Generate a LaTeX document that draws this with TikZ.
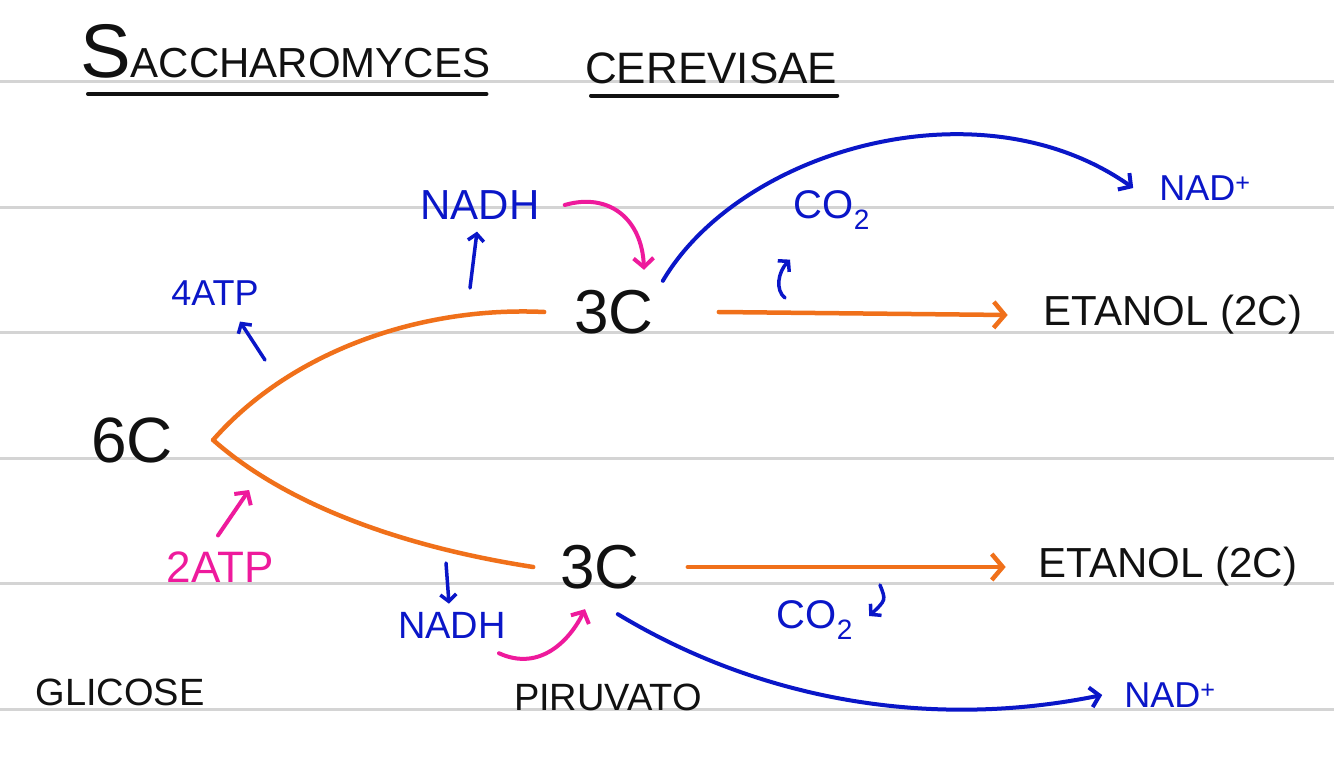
\documentclass[tikz,border=0pt]{standalone}
\usepackage{fontspec}
\setmainfont{Liberation Sans}
\usetikzlibrary{arrows.meta, positioning, calc}
\definecolor{noteOrange}{HTML}{F0701A}
\definecolor{noteBlue}{HTML}{0A16C8}
\definecolor{notePink}{HTML}{EE1A9C}
\definecolor{noteRule}{HTML}{D4D4D4}
\definecolor{noteInk}{HTML}{111111}

\begin{document}
\begin{tikzpicture}[
  x=1pt, y=-1pt,
  carbon/.style={inner sep=0pt, text=noteInk, font=\fontsize{62}{62}\selectfont},
  prod/.style={inner sep=0pt, text=noteInk, font=\fontsize{42}{42}\selectfont},
  mol/.style={inner sep=0pt, text=noteBlue, font=\fontsize{40}{40}\selectfont},
  headline/.style={inner sep=0pt, text=noteInk, anchor=base west},
  uline/.style={line width=4pt, color=noteInk, line cap=round},
  rule/.style={line width=3pt, color=noteRule},
  flow/.style={line width=4.5pt, color=noteOrange, line cap=round},
  flowarr/.style={flow, -{Straight Barb[length=11pt, width=26pt]}},
  redox/.style={line width=4pt, color=noteBlue, line cap=round, -{Straight Barb[length=9pt, width=20pt]}},
  tick/.style={line width=3.5pt, color=noteBlue, line cap=round, -{Straight Barb[length=7pt, width=16pt]}},
  gift/.style={line width=4pt, color=notePink, line cap=round, -{Straight Barb[length=9pt, width=20pt]}}
]
\useasboundingbox (0,0) rectangle (1334,773);
\fill[white] (0,0) rectangle (1334,773);

% ruled paper
\foreach \y in {82,207,332,458,583,709}
  \draw[rule] (0,\y) -- (1334,\y);

% title
\node[headline] (sac) at (80,78) {\fontsize{76}{76}\selectfont S\fontsize{42}{42}\selectfont ACCHAROMYCES};
\node[headline, font=\fontsize{44}{44}\selectfont] (cer) at (585,84) {CEREVISAE};
\draw[uline] ([shift={(8pt,-15pt)}]sac.south west) -- ([shift={(-4pt,-15pt)}]sac.south east);
\draw[uline] ([shift={(6pt,-11pt)}]cer.south west) -- ([shift={(0pt,-11pt)}]cer.south east);

% carbon skeletons
\node[carbon, font=\fontsize{64}{64}\selectfont] (six) at (132,440) {6C};
\node[carbon] (upc) at (614,312) {3C};
\node[carbon] (lowc) at (600,567) {3C};
\coordinate (fork) at ([xshift=40pt]six.east);

% products
\node[prod] (etup) at (1173,315) {ETANOL (2C)};
\node[prod] (etlow) at (1168,567) {ETANOL (2C)};
\node[mol, font=\fontsize{36}{36}\selectfont] (nadup) at (1205,188) {NAD\textsuperscript{+}};
\node[mol, font=\fontsize{36}{36}\selectfont] (nadlow) at (1170,695) {NAD\textsuperscript{+}};
\node[mol] (coup) at (832,210) {CO\textsubscript{2}};
\node[mol] (colow) at (815,620) {CO\textsubscript{2}};

% cofactors
\node[mol, font=\fontsize{42}{42}\selectfont] (nadhup) at (480,205) {NADH};
\node[mol, font=\fontsize{38}{38}\selectfont] (nadhlow) at (452,625) {NADH};
\node[mol, font=\fontsize{36}{36}\selectfont] (atpout) at (215,293) {4ATP};
\node[mol, text=notePink, font=\fontsize{44}{44}\selectfont] (atpin) at (220,567) {2ATP};

% names
\node[prod, font=\fontsize{38}{38}\selectfont] (glic) at (120,692) {GLICOSE};
\node[prod, font=\fontsize{38}{38}\selectfont] (piru) at (608,697) {PIRUVATO};

% glycolysis
\draw[flow] (fork) .. controls (290,352) and (420,306) .. ([xshift=-30pt]upc.west);
\draw[flow] (fork) .. controls (290,508) and (410,548) .. ([xshift=-27pt]lowc.west);

% fermentation
\draw[flowarr] ([xshift=65pt]upc.east) -- ([xshift=-36pt]etup.west);
\draw[flowarr] ([xshift=48pt]lowc.east) -- ([xshift=-33pt]etlow.west);
\draw[redox] ([shift={(9pt,9pt)}]upc.north east) .. controls (740,150) and (980,80) .. ([xshift=-26pt]nadup.west);
\draw[redox] ([shift={(-22pt,-25pt)}]lowc.south east) .. controls (760,700) and (930,730) .. ([xshift=-22pt]nadlow.west);

% side arrows
\coordinate (atpfrom) at (265,360);
\coordinate (nadhfrom) at (470,288);
\coordinate (cofrom) at (785,298);
\coordinate (nadhto) at (446,563);
\coordinate (colowfrom) at (880,585);
\draw[tick] (atpfrom) -- ([shift={(25pt,-16pt)}]atpout.south);
\draw[tick] (nadhfrom) -- ([shift={(-3pt,-12pt)}]nadhup.south);
\draw[tick] (cofrom) .. controls (775,290) and (778,272) .. ([shift={(-42pt,-30pt)}]coup.south);
\draw[tick] (nadhto) -- ([shift={(-3pt,8pt)}]nadhlow.north);
\draw[tick] (colowfrom) .. controls (886,600) .. ([shift={(16pt,4pt)}]colow.east);
\draw[gift] ([shift={(-2pt,16pt)}]atpin.north) -- ([shift={(36pt,-50pt)}]fork);
\draw[gift] ([xshift=25pt]nadhup.east) .. controls (610,192) and (642,220) .. ([shift={(30pt,20pt)}]upc.north);
\draw[gift] ([shift={(-7pt,-15pt)}]nadhlow.south east) .. controls (540,672) and (570,640) .. ([shift={(-15pt,-20pt)}]lowc.south);
\end{tikzpicture}
\end{document}
